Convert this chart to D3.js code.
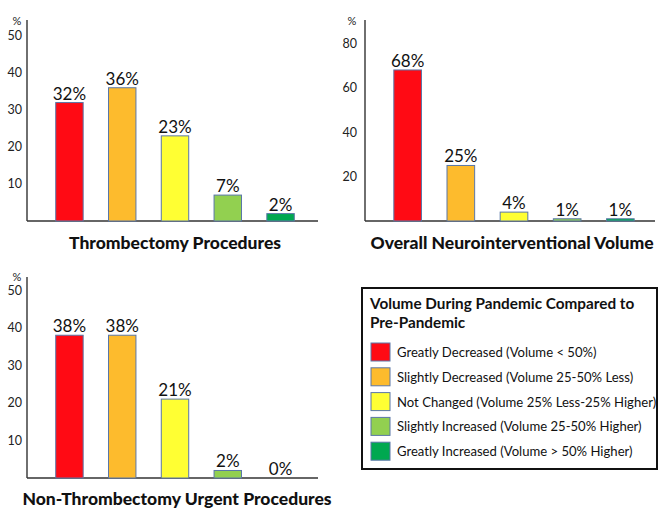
<!DOCTYPE html>
<html><head><meta charset="utf-8">
<script src="https://cdn.jsdelivr.net/npm/d3@7"></script>
<style>
html,body{margin:0;padding:0;background:#fff;}
svg{display:block;font-family:Lato, "Open Sans", sans-serif;}
</style></head>
<body><svg id="chart" width="659" height="510"></svg>
<script>
const categories = [
  "Greatly Decreased (Volume < 50%)",
  "Slightly Decreased (Volume 25-50% Less)",
  "Not Changed (Volume 25% Less-25% Higher)",
  "Slightly Increased (Volume 25-50% Higher)",
  "Greatly Increased (Volume > 50% Higher)"
];
const colors = ["#FF0A14", "#FDBB2D", "#FFFF33", "#92D050", "#00A850"];
const thrombectomy = [32, 36, 23, 7, 2];
const overall = [68, 25, 4, 1, 1];
const nonThrombectomy = [38, 38, 21, 2, 0];
const ticksA = [10, 20, 30, 40, 50];
const ticksB = [20, 40, 60, 80];
const ticksC = [10, 20, 30, 40, 50];
const legendTitle = ["Volume During Pandemic Compared to", "Pre-Pandemic"];

const svg = d3.select("#chart");

function panel(cfg) {
  const g = svg.append("g");
  const x = d3.scaleBand().domain(d3.range(cfg.values.length))
    .range(cfg.xRange).paddingInner(0.48).paddingOuter(0.26);
  const y = d3.scaleLinear().domain([0, cfg.yMax]).range([cfg.base, cfg.top]);

  const ax = d3.axisLeft(y).tickValues(cfg.ticks).tickSize(0).tickPadding(cfg.tickPad)
    .tickFormat(d3.format("d"));
  const ag = g.append("g").attr("transform", `translate(${cfg.axisX},0)`).call(ax);
  ag.select(".domain").remove();
  ag.selectAll("text").attr("font-size", 12.5).attr("fill", "#222")
    .attr("font-family", "Lato, sans-serif");
  g.append("line").attr("x1", cfg.axisX).attr("x2", cfg.axisX)
    .attr("y1", cfg.top).attr("y2", cfg.base)
    .attr("stroke", "#333").attr("stroke-width", 1.4);
  g.append("line").attr("x1", cfg.axisX).attr("x2", cfg.baseEnd)
    .attr("y1", cfg.base).attr("y2", cfg.base)
    .attr("stroke", "#333").attr("stroke-width", 1.4);
  g.append("text").attr("x", cfg.pctX).attr("y", cfg.pctY)
    .attr("text-anchor", "middle").attr("font-size", 11).attr("fill", "#222").text("%");

  g.selectAll("rect.bar").data(cfg.values).join("rect").attr("class", "bar")
    .filter(d => d > 0)
    .attr("x", (d, i) => x(i)).attr("width", x.bandwidth())
    .attr("y", d => y(d)).attr("height", d => cfg.base - y(d))
    .attr("fill", (d, i) => colors[i])
    .attr("stroke", "#5A77A8").attr("stroke-width", 1);

  g.selectAll("text.val").data(cfg.values).join("text").attr("class", "val")
    .attr("x", (d, i) => x(i) + x.bandwidth() / 2)
    .attr("y", d => y(d) - 3)
    .attr("text-anchor", "middle").attr("font-size", 17).attr("fill", "#111")
    .text(d => d + "%");

  g.append("text").attr("x", cfg.titleX).attr("y", cfg.titleY)
    .attr("text-anchor", "middle").attr("font-size", 17.5).attr("font-weight", "900")
    .attr("fill", "#111").text(cfg.title);
}

panel({values: thrombectomy, ticks: ticksA, yMax: 54.3, base: 221, top: 20,
  xRange: [42, 308], axisX: 27, baseEnd: 318, tickPad: 5, pctX: 17, pctY: 25,
  title: "Thrombectomy Procedures", titleX: 175, titleY: 249});
panel({values: overall, ticks: ticksB, yMax: 90.5, base: 221, top: 20,
  xRange: [380, 648], axisX: 365, baseEnd: 655, tickPad: 8, pctX: 352, pctY: 25,
  title: "Overall Neurointerventional Volume", titleX: 512, titleY: 249});
panel({values: nonThrombectomy, ticks: ticksC, yMax: 53.5, base: 478, top: 277,
  xRange: [42, 308], axisX: 27, baseEnd: 318, tickPad: 5, pctX: 17, pctY: 281,
  title: "Non-Thrombectomy Urgent Procedures", titleX: 177, titleY: 505});

// Legend
const lg = svg.append("g");
lg.append("rect").attr("x", 362).attr("y", 288).attr("width", 295).attr("height", 181)
  .attr("fill", "#fff").attr("stroke", "#111").attr("stroke-width", 2);
lg.selectAll("text.lt").data(legendTitle).join("text").attr("class", "lt")
  .attr("x", 370).attr("y", (d, i) => 309 + i * 19)
  .attr("font-size", 15.3).attr("font-weight", "bold").attr("fill", "#111").text(d => d);
const items = lg.selectAll("g.item").data(categories).join("g").attr("class", "item")
  .attr("transform", (d, i) => `translate(371, ${352 + i * 24.8})`);
items.append("rect").attr("x", 0).attr("y", -9).attr("width", 19).attr("height", 18)
  .attr("fill", (d, i) => colors[i]).attr("stroke", "#5A77A8").attr("stroke-width", 1);
items.append("text").attr("x", 26).attr("y", 5).attr("font-size", 13.1)
  .attr("fill", "#111").text(d => d);
</script></body></html>
